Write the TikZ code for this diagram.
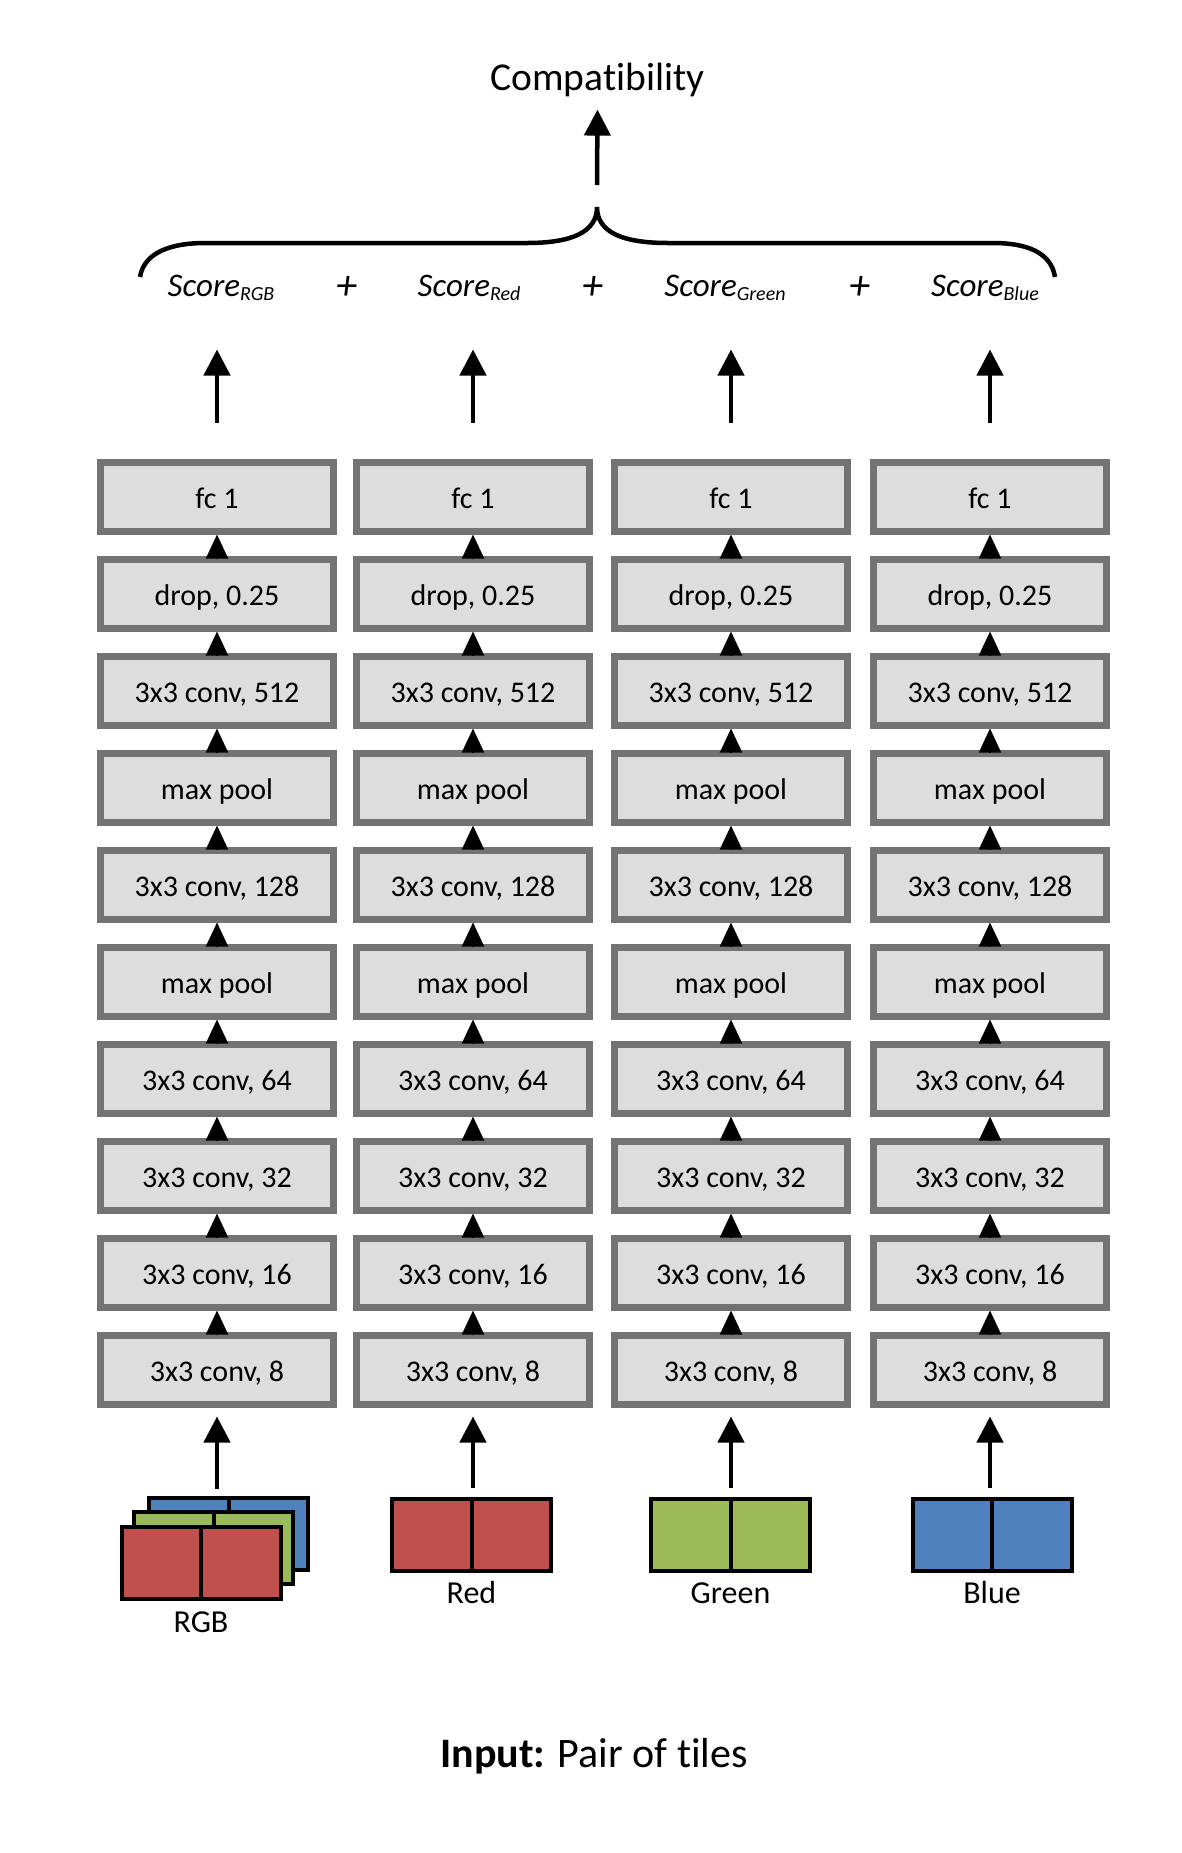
\documentclass[tikz,border=0pt]{standalone}
\usepackage{fontspec}
\setmainfont{Carlito}[Ligatures=NoCommon]
\usetikzlibrary{positioning,arrows.meta,calc}

\definecolor{boxfill}{RGB}{221,221,221}
\definecolor{boxdraw}{RGB}{115,115,115}
\definecolor{tred}{RGB}{192,80,77}
\definecolor{tgreen}{RGB}{155,187,89}
\definecolor{tblue}{RGB}{79,129,189}

\begin{document}
\begin{tikzpicture}[
        x=1pt, y=1pt,
        node distance=21pt,
        layer/.style={rectangle, draw=boxdraw, fill=boxfill, line width=7pt, minimum width=233pt, minimum height=69pt, inner sep=0pt, text height=31pt, text depth=8pt, font=\fontsize{30}{36}\selectfont},
        link/.style={-{Triangle[length=24pt, width=22pt]}, line width=2pt},
        line/.style={-{Triangle[length=26pt, width=26pt]}, line width=4.5pt},
        tile/.style={rectangle, draw=black, line width=4pt, minimum width=159pt, minimum height=72pt, inner sep=0pt},
        chan/.style={font=\fontsize{32}{38}\selectfont, inner sep=0pt, anchor=base},
        score/.style={font=\fontsize{33}{40}\selectfont\itshape, inner sep=0pt, anchor=base},
        plus/.style={font=\fontsize{42}{48}\selectfont\itshape, inner sep=0pt, anchor=base}
    ]
    \useasboundingbox (0,0) rectangle (1182,-1853);

    % one stack of layers per channel
    \foreach \x/\c in {217/1, 473/2, 731/3, 990/4} {
        \node[layer] (c\c-1) at (\x,-1369.5) {3x3 conv, 8};
        \foreach \t [count=\i from 2] in {{3x3 conv, 16}, {3x3 conv, 32}, {3x3 conv, 64}, {max pool}, {3x3 conv, 128}, {max pool}, {3x3 conv, 512}, {drop, 0.25}, {fc 1}} {
            \pgfmathtruncatemacro\j{\i-1}
            \node[layer, above=of c\c-\j] (c\c-\i) {\t};
            \draw[link] ([yshift=-3pt]c\c-\j.north) -- (c\c-\i.south);
        }
        \draw[line] ([yshift=36pt]c\c-10.north) -- ([yshift=109pt]c\c-10.north);
    }

    % scores
    \node[score] (sRGB) at (221,-296) {Score\raisebox{-4pt}{\fontsize{20}{24}\selectfont RGB}};
    \node[plus] (p1) at (347,-299) {+};
    \node[score] (sRed) at (469,-296) {Score\raisebox{-4pt}{\fontsize{20}{24}\selectfont Red}};
    \node[plus] (p2) at (593,-299) {+};
    \node[score] (sGreen) at (725,-296) {Score\raisebox{-4pt}{\fontsize{20}{24}\selectfont Green}};
    \node[plus] (p3) at (860,-299) {+};
    \node[score] (sBlue) at (985,-296) {Score\raisebox{-4pt}{\fontsize{20}{24}\selectfont Blue}};

    % brace and output
    \coordinate (bracetip) at (597,-207);
    \draw[line width=4.5pt] (140,-277) .. controls (144,-252) and (172,-243) .. (205,-243) -- (527,-243)
        .. controls (572,-243) and (597,-232) .. (bracetip)
        .. controls (597,-232) and (622,-243) .. (668,-243) -- (993,-243)
        .. controls (1026,-243) and (1051,-252) .. (1055,-277);
    \node[font=\fontsize{39.5}{47}\selectfont, anchor=base, inner sep=0pt] (compat) at (597.5,-90) {Compatibility};
    \draw[line] ([yshift=22pt]bracetip) -- ([yshift=-13pt]compat.south);

    % input tiles
    \node[tile, fill=tblue] (rgbB) at (228.5,-1533.5) {};
    \draw[line width=4pt] (rgbB.north) -- (rgbB.south);
    \node[tile, fill=tgreen] (rgbG) at (213.5,-1547.5) {};
    \draw[line width=4pt] (rgbG.north) -- (rgbG.south);
    \node[tile, fill=tred] (rgbR) at (201,-1562.5) {};
    \draw[line width=4pt] (rgbR.north) -- (rgbR.south);
    \node[tile, fill=tred] (red) at (471.5,-1535) {};
    \draw[line width=4pt] (red.north) -- (red.south);
    \node[tile, fill=tgreen] (green) at (730.5,-1535) {};
    \draw[line width=4pt] (green.north) -- (green.south);
    \node[tile, fill=tblue] (blue) at (992,-1535) {};
    \draw[line width=4pt] (blue.north) -- (blue.south);

    \node[chan] (lRGB) at ($(rgbR.south)+(0,-32)$) {RGB};
    \node[chan] (lRed) at ($(red.south)+(0,-30)$) {Red};
    \node[chan] (lGreen) at ($(green.south)+(0,-30)$) {Green};
    \node[chan] (lBlue) at ($(blue.south)+(0,-30)$) {Blue};

    \draw[line] ($(c1-1.south |- rgbB.north)+(0,7)$) -- ($(c1-1.south)+(0,-9)$);
    \draw[line] ($(c2-1.south |- red.north)+(0,9)$) -- ($(c2-1.south)+(0,-9)$);
    \draw[line] ($(c3-1.south |- green.north)+(0,9)$) -- ($(c3-1.south)+(0,-9)$);
    \draw[line] ($(c4-1.south |- blue.north)+(0,9)$) -- ($(c4-1.south)+(0,-9)$);

    \node[font=\fontsize{42}{50}\selectfont, anchor=base, inner sep=0pt] (input) at (594,-1767) {\textbf{Input:} Pair of tiles};
\end{tikzpicture}
\end{document}
